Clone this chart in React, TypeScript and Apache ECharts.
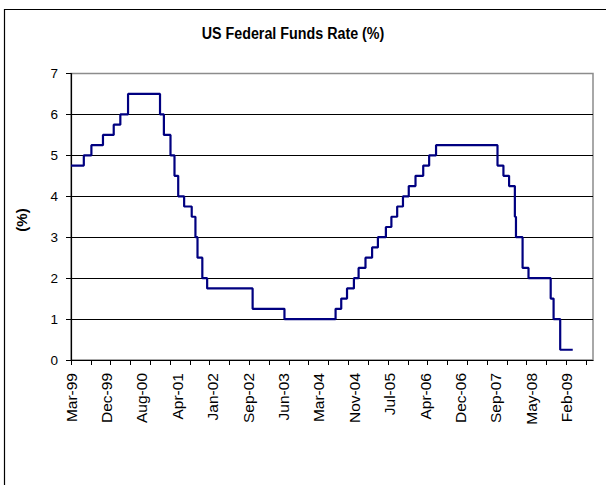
import React, { useEffect, useRef } from "react";
import * as echarts from "echarts";

const changeDates = [
  "1999-03-29", "1999-06-30", "1999-08-24", "1999-11-16", "2000-02-02", "2000-03-21", "2000-05-16",
  "2001-01-03", "2001-01-31", "2001-03-20", "2001-04-18", "2001-05-15", "2001-06-27", "2001-08-21",
  "2001-09-17", "2001-10-02", "2001-11-06", "2001-12-11", "2002-11-06", "2003-06-25", "2004-06-30",
  "2004-08-10", "2004-09-21", "2004-11-10", "2004-12-14", "2005-02-02", "2005-03-22", "2005-05-03",
  "2005-06-30", "2005-08-09", "2005-09-20", "2005-11-01", "2005-12-13", "2006-01-31", "2006-03-28",
  "2006-05-10", "2006-06-29", "2007-09-18", "2007-10-31", "2007-12-11", "2008-01-22", "2008-01-30",
  "2008-03-18", "2008-04-30", "2008-10-08", "2008-10-29", "2008-12-16", "2009-03-17",
];
const rates = [
  4.75, 5.0, 5.25, 5.5, 5.75, 6.0, 6.5,
  6.0, 5.5, 5.0, 4.5, 4.0, 3.75, 3.5,
  3.0, 2.5, 2.0, 1.75, 1.25, 1.0, 1.25,
  1.5, 1.75, 2.0, 2.25, 2.5, 2.75, 3.0,
  3.25, 3.5, 3.75, 4.0, 4.25, 4.5, 4.75,
  5.0, 5.25, 4.75, 4.5, 4.25, 3.5, 3.0,
  2.25, 2.0, 1.5, 1.0, 0.25, 0.25,
];
const xTickLabels = [
  "Mar-99", "Dec-99", "Aug-00", "Apr-01", "Jan-02", "Sep-02", "Jun-03", "Mar-04",
  "Nov-04", "Jul-05", "Apr-06", "Dec-06", "Sep-07", "May-08", "Feb-09",
];
const axisStart = "1999-03-29";
const axisEnd = "2009-08-11";
const tickCount = 26; // tick marks along the date axis
const tickSpan = 26.35;
const labelSpan = 14.743;

function toTs(s: string): number {
  const [y, m, d] = s.split("-").map(Number);
  return new Date(y, m - 1, d).getTime();
}

const FONT = "Liberation Sans, Arial, sans-serif";

export default function App() {
  const ref = useRef<HTMLDivElement>(null);
  useEffect(() => {
    if (!ref.current) return;
    const chart = echarts.init(ref.current, undefined, { renderer: "svg" });
    const data = changeDates.map((d, i) => [toTs(d), rates[i]]);
    const tickValues = Array.from({ length: tickCount + 1 }, (_, i) => i);
    const labelValues = xTickLabels.map((_, i) => i);
    chart.setOption({
      animation: false,
      backgroundColor: "#fff",
      grid: {
        left: 71,
        top: 73.5,
        width: 522,
        height: 286.5,
        show: true,
        borderColor: "#8c8c8c",
        borderWidth: 1.5,
        backgroundColor: "transparent",
      },
      graphic: [
        {
          type: "rect",
          shape: { x: 4.5, y: 9.5, width: 700, height: 600 },
          style: { fill: "none", stroke: "#000", lineWidth: 1.2 },
          silent: true,
        },
        {
          type: "text",
          x: 293,
          y: 33,
          scaleY: 1.12,
          style: {
            text: "US Federal Funds Rate (%)",
            font: `bold 14.3px ${FONT}`,
            fill: "#000",
            textAlign: "center",
            textVerticalAlign: "middle",
          },
        },
        {
          type: "text",
          x: 21,
          y: 220,
          rotation: Math.PI / 2,
          style: {
            text: "(%)",
            font: `bold 15px ${FONT}`,
            fill: "#000",
            textAlign: "center",
            textVerticalAlign: "middle",
          },
        },
      ],
      xAxis: [
        {
          type: "time",
          min: toTs(axisStart),
          max: toTs(axisEnd),
          axisLine: { show: true, lineStyle: { color: "#000", width: 1.2 } },
          axisTick: { show: false },
          axisLabel: { show: false },
          splitLine: { show: false },
        },
        {
          type: "value",
          min: 0,
          max: tickSpan,
          position: "bottom",
          axisLine: { show: false },
          axisTick: {
            show: true,
            length: 5,
            customValues: tickValues,
            lineStyle: { color: "#000", width: 1 },
          },
          axisLabel: { show: false },
          splitLine: { show: false },
        },
        {
          type: "value",
          min: 0,
          max: labelSpan,
          position: "bottom",
          axisLine: { show: false },
          axisTick: { show: false },
          axisLabel: {
            show: true,
            customValues: labelValues,
            rotate: 90,
            margin: 13,
            fontSize: 15.5,
            fontFamily: FONT,
            color: "#000",
            formatter: (v: number) => xTickLabels[Math.round(v)] ?? "",
          },
          splitLine: { show: false },
        },
      ],
      yAxis: {
        type: "value",
        min: 0,
        max: 7,
        interval: 1,
        axisLine: { show: true, lineStyle: { color: "#000", width: 1.2 } },
        axisTick: { show: true, length: 5, lineStyle: { color: "#000" } },
        axisLabel: { fontSize: 13.5, fontFamily: FONT, color: "#000", margin: 13 },
        splitLine: {
          show: true,
          showMinLine: false,
          showMaxLine: false,
          lineStyle: { color: "#000", width: 1 },
        },
      },
      series: [
        {
          type: "line",
          data,
          step: "end",
          symbol: "none",
          lineStyle: { color: "#000080", width: 2.2 },
          xAxisIndex: 0,
        },
      ],
    });
    return () => chart.dispose();
  }, []);
  return (
    <div
      ref={ref}
      style={{ position: "fixed", left: 0, top: 0, width: 606, height: 485, background: "#fff" }}
    />
  );
}
